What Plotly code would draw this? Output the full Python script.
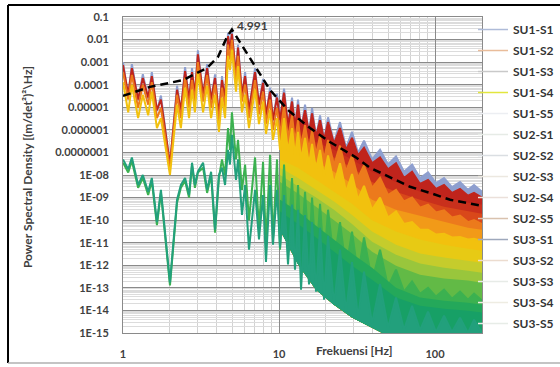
import math
import plotly.graph_objects as go

# ---------------- data ----------------
# frequency grid (Hz) of the peaks / troughs that were read off the picture
FREQ_FINE = [1.00, 1.08, 1.14, 1.25, 1.34, 1.45, 1.53, 1.65, 1.75, 2.00,
             2.22, 2.35, 2.50, 2.65, 2.77, 2.89, 3.02, 3.26, 3.46, 3.67,
             3.89, 4.12, 4.31, 4.51, 4.71, 4.85, 4.99, 5.30, 5.46, 5.79,
             6.06, 6.42, 7.02, 7.44, 7.90, 8.25, 8.76, 9.15, 9.71, 10.15,
             10.77, 11.42, 12.12, 12.66, 13.24, 13.84, 14.68, 15.57, 16.28, 17.27,
             18.32, 19.44, 20.62, 22.52, 24.60, 26.88, 29.37, 32.09, 35.06, 39.48,
             44.41, 49.96, 56.23, 63.26, 71.23, 80.13, 90.19, 101.5, 114.2, 128.5,
             144.6, 162.7, 177.8, 200.0]

# coarse grid for the upper envelopes of the dense (unresolved) records
FREQ_BAND = [10.15, 13.24, 17.27, 22.52, 29.37, 39.48, 56.23, 80.13, 114.2, 162.7, 200.0]
# lowest troughs reached by the records (lower limit of the dense band)
PSD_FLOOR = [3.8e-11, 1.1e-12, 8.3e-14, 1.8e-14, 4.8e-15, 1.7e-15, 5e-16, 5e-16, 5e-16, 5e-16, 5e-16]

SU3_S1 = [1.0e-3, 3.3e-5, 8.2e-4, 2.0e-5, 2.9e-4, 2.4e-5, 3.6e-4, 6.7e-6, 3.3e-5, 2.7e-8,
          9.0e-5, 6.7e-6, 6.0e-4, 2.0e-5, 5.4e-4, 3.3e-5, 3.3e-3, 3.3e-5, 8.2e-4, 2.0e-5,
          2.9e-4, 4.0e-6, 2.4e-4, 2.0e-5, 2.0e-2, 3.3e-3, 2.4e-2, 2.4e-4, 6.0e-3, 3.3e-5,
          3.6e-4, 6.7e-6, 5.4e-4, 1.2e-5, 1.8e-4, 4.0e-6, 7.4e-5, 2.4e-6, 4.0e-5,
          2.7e-6, 6.7e-5, 1.6e-6, 2.7e-5, 1.4e-6, 2.2e-5, 1.0e-6, 1.3e-5, 6.7e-7, 9.4e-6,
          4.9e-7, 4.4e-6, 3.6e-7, 3.6e-6, 2.7e-7, 2.2e-6, 1.6e-7, 8.2e-7, 9.6e-8, 3.3e-7,
          4.9e-8, 1.3e-7, 2.9e-8, 6.7e-8, 1.4e-8, 2.9e-8, 7.4e-9, 1.3e-8, 4.4e-9, 7.4e-9,
          2.9e-9, 4.9e-9, 2.2e-9, 3.6e-9, 1.8e-9]

SU1_S1 = [7.4e-4, 3.6e-5, 5.4e-4, 2.2e-5, 2.0e-4, 2.7e-5, 2.4e-4, 7.4e-6, 2.2e-5, 2.9e-8,
          6.0e-5, 7.4e-6, 4.0e-4, 2.2e-5, 3.6e-4, 3.6e-5, 2.2e-3, 3.6e-5, 5.4e-4, 2.2e-5,
          2.0e-4, 4.4e-6, 1.6e-4, 2.2e-5, 1.4e-2, 3.6e-3, 1.8e-2, 2.7e-4, 4.4e-3, 3.6e-5,
          2.4e-4, 7.4e-6, 3.6e-4, 1.3e-5, 1.2e-4, 4.4e-6, 4.9e-5, 2.7e-6, 2.7e-5,
          2.7e-6, 4.4e-5, 1.6e-6, 1.8e-5, 1.4e-6, 1.3e-5, 1.0e-6, 7.4e-6, 6.7e-7, 5.4e-6,
          4.9e-7, 2.7e-6, 3.6e-7, 2.2e-6, 2.4e-7, 1.2e-6, 1.3e-7, 4.4e-7, 7.4e-8, 1.6e-7,
          3.3e-8, 6.0e-8, 1.8e-8, 3.3e-8, 7.4e-9, 1.4e-8, 4.0e-9, 6.0e-9, 2.4e-9, 3.6e-9,
          1.6e-9, 2.4e-9, 1.2e-9, 1.6e-9, 1.0e-9]

SU1_S2 = [3.6e-4, 2.2e-5, 2.7e-4, 9.4e-6, 1.0e-4, 1.3e-5, 1.3e-4, 3.3e-6, 9.4e-6, 1.8e-8,
          3.6e-5, 3.3e-6, 2.0e-4, 9.4e-6, 1.6e-4, 1.8e-5, 1.0e-3, 1.8e-5, 2.7e-4, 9.4e-6,
          1.0e-4, 2.2e-6, 7.4e-5, 9.4e-6, 6.0e-3, 1.3e-3, 9.6e-3, 1.3e-4, 1.9e-3, 1.8e-5,
          1.0e-4, 3.3e-6, 1.6e-4, 4.9e-6, 4.9e-5, 1.8e-6, 2.2e-5, 1.0e-6, 9.4e-6,
          6.0e-7, 1.2e-5, 4.4e-7, 4.4e-6, 2.9e-7, 2.7e-6, 2.0e-7, 1.6e-6, 1.3e-7, 1.0e-6,
          8.2e-8, 5.4e-7, 4.9e-8, 3.6e-7, 2.7e-8, 2.0e-7, 1.4e-8, 7.4e-8, 7.4e-9, 2.7e-8,
          2.7e-9, 7.4e-9, 1.3e-9, 2.2e-9, 6.7e-10, 1.0e-9, 3.6e-10, 4.9e-10, 2.2e-10, 2.7e-10,
          1.3e-10, 1.6e-10, 8.2e-11, 1.0e-10, 6.7e-11]

SU1_S4 = [1.3e-4, 6.0e-6, 1.0e-4, 3.3e-6, 3.6e-5, 4.4e-6, 4.9e-5, 1.2e-6, 3.3e-6, 1.0e-8,
          1.3e-5, 1.2e-6, 7.4e-5, 3.3e-6, 6.0e-5, 6.0e-6, 3.6e-4, 6.0e-6, 9.0e-5, 3.3e-6,
          3.6e-5, 8.2e-7, 2.7e-5, 3.3e-6, 1.9e-3, 4.4e-4, 3.6e-3, 4.9e-5, 6.7e-4, 6.0e-6,
          3.6e-5, 1.2e-6, 6.0e-5, 1.8e-6, 1.8e-5, 6.7e-7, 7.4e-6, 3.6e-7, 3.3e-6,
          1.3e-7, 3.3e-6, 1.1e-7, 1.2e-6, 7.4e-8, 8.2e-7, 4.9e-8, 4.4e-7, 2.9e-8, 2.4e-7,
          1.8e-8, 1.3e-7, 9.0e-9, 7.4e-8, 4.0e-9, 3.3e-8, 1.8e-9, 1.1e-8, 8.0e-10, 3.3e-9,
          2.9e-10, 1.0e-9, 1.3e-10, 2.4e-10, 6.7e-11, 8.2e-11, 3.8e-11, 3.8e-11, 2.3e-11, 2.5e-11,
          1.7e-11, 1.8e-11, 1.4e-11, 1.5e-11, 1.2e-11]

SU2_S1 = [3.5e-8, 1.3e-8, 4.2e-8, 2.7e-9, 7.4e-9, 1.3e-9, 5.4e-9, 6.0e-11, 1.6e-9, 1.3e-13,
          5.9e-10, 2.7e-9, 5.4e-9, 1.0e-9, 2.7e-8, 2.7e-9, 1.3e-8, 2.1e-8, 1.6e-9, 1.0e-8,
          2.8e-11, 7.4e-9, 4.9e-8, 1.0e-8, 1.2e-6, 1.3e-7, 6.0e-6, 4.9e-8, 3.6e-7, 2.2e-9,
          2.9e-8, 1.0e-10, 6.0e-8, 3.8e-11, 3.8e-8, 8.2e-12, 7.8e-8, 1.4e-11, 4.9e-8,
          4.9e-12, 2.9e-8, 8.2e-12, 7.4e-9, 4.9e-12, 3.6e-9, 2.9e-12, 1.8e-9, 2.2e-12, 1.0e-9,
          1.4e-12, 5.3e-10, 1.1e-12, 2.9e-10, 1.4e-12, 8.2e-11, 6.4e-13, 3.1e-11, 3.5e-13, 1.7e-11,
          1.9e-13, 4.9e-12, 1.1e-13, 6.4e-13, 6.8e-14, 1.9e-13, 5.5e-14, 1.0e-13, 4.1e-14, 8.3e-14,
          3.3e-14, 6.8e-14, 3.0e-14, 5.5e-14, 2.7e-14]

SU3_S5 = [4.9e-8, 1.8e-8, 6.0e-8, 3.6e-9, 1.0e-8, 1.8e-9, 7.4e-9, 8.2e-11, 2.2e-9, 1.7e-13,
          8.0e-10, 3.6e-9, 7.4e-9, 1.3e-9, 3.5e-8, 3.6e-9, 1.4e-8, 3.5e-8, 2.2e-9, 1.4e-8,
          3.8e-11, 1.0e-8, 2.1e-8, 3.6e-9, 1.3e-7, 2.9e-8, 6.0e-7, 6.0e-9, 4.9e-8, 1.7e-10,
          3.6e-9, 4.9e-12, 2.2e-9, 1.4e-11, 1.3e-9, 1.4e-12, 3.6e-9, 8.2e-12, 2.2e-9,
          6.0e-12, 1.3e-9, 1.1e-12, 4.9e-10, 6.4e-13, 2.9e-10, 8.3e-14, 1.7e-10, 1.4e-13, 8.2e-11,
          6.8e-14, 4.6e-11, 3.0e-14, 2.0e-11, 1.8e-14, 4.9e-12, 8.9e-15, 1.4e-12, 4.8e-15, 5.2e-13,
          2.6e-15, 1.5e-13, 1.7e-15, 3.7e-14, 1.4e-15, 1.6e-14, 1.3e-15, 8.9e-15, 1.1e-15, 5.9e-15,
          1.1e-15, 4.8e-15, 1.0e-15, 3.9e-15, 1.0e-15]

# upper envelopes of the dense records (on FREQ_BAND)
SU2_S5_TOP = [1.4e-6, 6.7e-7, 2.9e-7, 1.3e-7, 4.9e-8, 1.4e-8, 4.9e-9, 1.8e-9, 1.0e-9, 5.9e-10, 4.9e-10]
SU2_S4_TOP = [8.2e-7, 3.6e-7, 1.4e-7, 6.0e-8, 2.1e-8, 4.9e-9, 1.8e-9, 8.0e-10, 3.9e-10, 2.4e-10, 1.9e-10]
SU3_S2_TOP = [2.2e-7, 1.1e-7, 3.8e-8, 1.4e-8, 4.0e-9, 8.0e-10, 2.9e-10, 1.6e-10, 8.2e-11, 4.6e-11, 3.8e-11]
SU3_S4_TOP = [4.9e-8, 2.1e-8, 6.1e-9, 1.8e-9, 5.3e-10, 1.0e-10, 3.1e-11, 1.4e-11, 8.2e-12, 5.4e-12, 4.4e-12]
SU2_S3_TOP = [2.1e-8, 7.4e-9, 2.2e-9, 6.7e-10, 1.7e-10, 3.1e-11, 8.2e-12, 3.3e-12, 2.2e-12, 1.6e-12, 1.3e-12]
SU1_S3_TOP = [1.0e-8, 3.3e-9, 1.0e-9, 2.9e-10, 6.7e-11, 1.1e-11, 2.9e-12, 1.2e-12, 7.8e-13, 5.8e-13, 4.7e-13]
SU1_S5_TOP = [4.9e-9, 1.5e-9, 3.9e-10, 1.0e-10, 2.5e-11, 4.0e-12, 9.6e-13, 3.8e-13, 2.6e-13, 2.1e-13, 1.7e-13]
SU2_S2_TOP = [8.0e-10, 2.4e-10, 5.6e-11, 1.4e-11, 3.3e-12, 7.8e-13, 1.0e-13, 3.7e-14, 2.7e-14, 2.2e-14, 1.8e-14]
SU3_S3_TOP = [2.4e-10, 6.7e-11, 1.7e-11, 4.0e-12, 9.6e-13, 2.3e-13, 3.7e-14, 1.6e-14, 1.2e-14, 9.8e-15, 8.0e-15]

# fitted response curve (dashed)
FIT_FREQ = [1.0, 1.49, 2.42, 3.45, 4.06, 4.64, 4.991, 5.88, 7.23, 8.75,
            11.4, 15.8, 21.2, 30.7, 38.3, 51.5, 69.2, 92.9, 125.0, 200.0]
FIT_PSD = [3.2e-5, 8.0e-5, 1.6e-4, 5.5e-4, 1.7e-3, 1.3e-2, 2.8e-2, 4.7e-3, 4.5e-4, 5.9e-5,
           7.6e-6, 1.2e-6, 2.9e-7, 6.4e-8, 2.1e-8, 7.6e-9, 3.0e-9, 1.6e-9, 8.0e-10, 4.3e-10]

LEGEND_NAMES = ["SU1-S1", "SU1-S2", "SU1-S3", "SU1-S4", "SU1-S5",
                "SU2-S1", "SU2-S2", "SU2-S3", "SU2-S4", "SU2-S5",
                "SU3-S1", "SU3-S2", "SU3-S3", "SU3-S4", "SU3-S5"]
LEGEND_COLORS = ["#aebbd8", "#e9bc9a", "#c9c9c9", "#e2e63e", "#eceef2",
                 "#e6ebe6", "#dadee2", "#ece8e0", "#ebe0da", "#d9c2ae",
                 "#9ea8bc", "#ecdccf", "#e7ebe7", "#eeece2", "#e7ece7"]

Y_TICKVALS = [1e-15, 1e-14, 1e-13, 1e-12, 1e-11, 1e-10, 1e-9, 1e-8,
              1e-7, 1e-6, 1e-5, 1e-4, 1e-3, 1e-2, 1e-1]
Y_TICKTEXT = ["1E-15", "1E-14", "1E-13", "1E-12", "1E-11", "1E-10", "1E-09", "1E-08",
              "0.0000001", "0.000001", "0.00001", "0.0001", "0.001", "0.01", "0.1"]
X_TICKVALS = [1, 10, 100]
X_TICKTEXT = ["1", "10", "100"]

# drawing order: highest record first, lowest last (later ones cover earlier)
LAYERS = [
    ("SU3-S1", "#8e9fcf", SU3_S1, None),
    ("SU1-S1", "#c0241c", SU1_S1, None),
    ("SU2-S5", "#c9301c", None, SU2_S5_TOP),
    ("SU2-S4", "#d9481a", None, SU2_S4_TOP),
    ("SU1-S2", "#ec7a1c", SU1_S2, None),
    ("SU3-S2", "#f29a18", None, SU3_S2_TOP),
    ("SU1-S4", "#f2c10e", SU1_S4, None),
    ("SU3-S4", "#e7ca14", None, SU3_S4_TOP),
    ("SU2-S3", "#c5cc2c", None, SU2_S3_TOP),
    ("SU1-S3", "#99c63c", None, SU1_S3_TOP),
    ("SU1-S5", "#62ba46", None, SU1_S5_TOP),
    ("SU2-S1", "#3cb150", SU2_S1, None),
    ("SU2-S2", "#24a85a", None, SU2_S2_TOP),
    ("SU3-S3", "#17a066", None, SU3_S3_TOP),
    ("SU3-S5", "#22a07c", SU3_S5, None),
]

FONT = "Lato"
TXT = "#404040"

fig = go.Figure()
i0 = FREQ_FINE.index(FREQ_BAND[0])
for name, color, psd, top in LAYERS:
    if psd is not None:
        bx = FREQ_FINE[i0:] + FREQ_BAND[::-1]
        by = psd[i0:] + PSD_FLOOR[::-1]
    else:
        bx = FREQ_BAND + FREQ_BAND[::-1]
        by = top + PSD_FLOOR[::-1]
    fig.add_trace(go.Scatter(x=bx, y=by, mode="lines", fill="toself", fillcolor=color,
                             line=dict(width=0, color=color), name=name,
                             showlegend=False, hoverinfo="skip"))
    if psd is not None:
        fig.add_trace(go.Scatter(x=FREQ_FINE, y=psd, mode="lines", name=name,
                                 line=dict(color=color, width=2.0),
                                 showlegend=False, hoverinfo="skip"))

fig.add_trace(go.Scatter(x=FIT_FREQ, y=FIT_PSD, mode="lines",
                         line=dict(color="black", width=2.5, dash="8px,5px"),
                         showlegend=False, hoverinfo="skip"))

for n, c in zip(LEGEND_NAMES, LEGEND_COLORS):
    fig.add_trace(go.Scatter(x=[None], y=[None], mode="lines", name=n, legendgroup=n,
                             line=dict(color=c, width=1.5), showlegend=True))

pk = FIT_PSD.index(max(FIT_PSD))
fig.add_annotation(x=math.log10(FIT_FREQ[pk]), y=math.log10(FIT_PSD[pk]), xref="x", yref="y",
                   text=f"{FIT_FREQ[pk]:.3f}", showarrow=False, xshift=21, yshift=4,
                   font=dict(family=FONT, size=12, color=TXT, weight="bold"))
fig.add_annotation(x=-0.2674, y=0.525, xref="paper", yref="paper", textangle=-90,
                   xanchor="center", yanchor="middle",
                   text="Power Spectral Density [(m/det²)²\\Hz]", showarrow=False,
                   font=dict(family=FONT, size=12, color=TXT, weight="bold"))
fig.add_annotation(x=0.646, y=-0.054, xref="paper", yref="paper",
                   xanchor="center", yanchor="middle",
                   text="Frekuensi [Hz]", showarrow=False,
                   font=dict(family=FONT, size=12, color=TXT, weight="bold"))

# outer frame
fig.add_shape(type="line", xref="paper", yref="paper", x0=-0.3203, x1=-0.3203, y0=1.038, y1=-0.0949,
              line=dict(color="black", width=2))
fig.add_shape(type="line", xref="paper", yref="paper", x0=-0.3203, x1=1.22, y0=1.038, y1=1.038,
              line=dict(color="black", width=2))
fig.add_shape(type="line", xref="paper", yref="paper", x0=-0.3203, x1=1.22, y0=-0.0949, y1=-0.0949,
              line=dict(color="#b0b0b0", width=1.5))

x_minor = [k * 10 ** p for p in (0, 1) for k in range(2, 10)]
y_minor = [k * 10.0 ** p for p in range(-15, -1) for k in range(2, 10)]

fig.update_xaxes(type="log", range=[0, math.log10(200)],
                 tickmode="array", tickvals=X_TICKVALS, ticktext=X_TICKTEXT,
                 showgrid=True, gridcolor="#8a8a8a", gridwidth=1,
                 minor=dict(tickmode="array", tickvals=x_minor, showgrid=True,
                            gridcolor="#d2d2d2", gridwidth=1),
                 showline=True, linecolor="#8a8a8a", linewidth=1, mirror=True,
                 ticks="", zeroline=False, ticklabelstandoff=11,
                 tickfont=dict(family=FONT, size=11, color=TXT, weight="bold"))
fig.update_yaxes(type="log", range=[-15, -1],
                 tickmode="array", tickvals=Y_TICKVALS, ticktext=Y_TICKTEXT,
                 showgrid=True, gridcolor="#8a8a8a", gridwidth=1,
                 minor=dict(tickmode="array", tickvals=y_minor, showgrid=True,
                            gridcolor="#dcdcdc", gridwidth=1),
                 showline=True, linecolor="#8a8a8a", linewidth=1, mirror=True,
                 ticks="", zeroline=False, ticklabelstandoff=11,
                 tickfont=dict(family=FONT, size=11, color=TXT, weight="bold"))

fig.update_layout(
    width=560, height=367,
    margin=dict(l=123, r=78, t=17, b=34, autoexpand=False),
    paper_bgcolor="white", plot_bgcolor="white",
    font=dict(family=FONT, size=11, color=TXT),
    showlegend=True,
    legend=dict(x=0.975, y=1.0063, xanchor="left", yanchor="top",
                bgcolor="rgba(0,0,0,0)", borderwidth=0, maxheight=360,
                font=dict(family=FONT, size=12, color="#333333", weight="bold"),
                traceorder="grouped", tracegroupgap=2),
)

fig.write_html("out.html", config={"displayModeBar": False},
               post_script="document.body.style.margin='0';document.body.style.overflow='hidden';")
